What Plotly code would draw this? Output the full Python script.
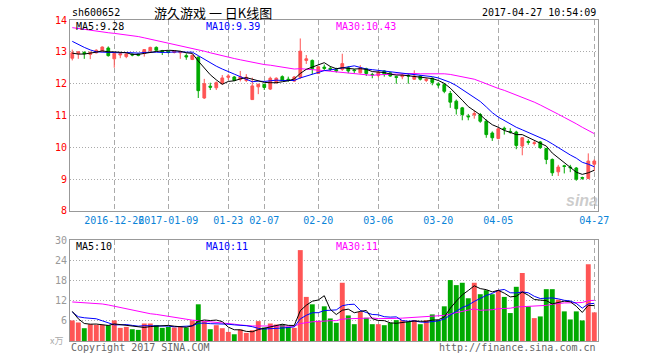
import plotly.graph_objects as go

# ---------------- data ----------------
dates = ["2016-12-15","2016-12-16","2016-12-19","2016-12-20","2016-12-21","2016-12-22","2016-12-23","2016-12-26","2016-12-27","2016-12-28","2016-12-29","2016-12-30",
         "2017-01-03","2017-01-04","2017-01-05","2017-01-06","2017-01-09","2017-01-10","2017-01-11","2017-01-12","2017-01-13","2017-01-16","2017-01-17","2017-01-18","2017-01-19","2017-01-20","2017-01-23","2017-01-24","2017-01-25","2017-01-26",
         "2017-02-03","2017-02-06","2017-02-07","2017-02-08","2017-02-09","2017-02-10","2017-02-13","2017-02-14","2017-02-15","2017-02-16","2017-02-17","2017-02-20","2017-02-21","2017-02-22","2017-02-23","2017-02-24","2017-02-27","2017-02-28",
         "2017-03-01","2017-03-02","2017-03-03","2017-03-06","2017-03-07","2017-03-08","2017-03-09","2017-03-10","2017-03-13","2017-03-14","2017-03-15","2017-03-16","2017-03-17","2017-03-20","2017-03-21","2017-03-22","2017-03-23","2017-03-24","2017-03-27","2017-03-28","2017-03-29","2017-03-30","2017-03-31",
         "2017-04-05","2017-04-06","2017-04-07","2017-04-10","2017-04-11","2017-04-12","2017-04-13","2017-04-14","2017-04-17","2017-04-18","2017-04-19","2017-04-20","2017-04-21","2017-04-24","2017-04-25","2017-04-26","2017-04-27"]

opens = [12.80,12.94,12.98,12.92,12.97,13.03,13.12,12.78,12.90,12.85,
         12.93,12.93,12.95,13.03,13.14,13.04,13.02,12.98,12.97,12.88,
         12.76,12.83,11.55,11.92,11.87,12.00,12.20,12.21,12.14,12.10,
         11.50,11.90,11.98,11.83,12.03,12.22,12.14,12.08,12.20,12.73,
         12.73,12.32,12.52,12.48,12.44,12.45,12.50,12.43,12.34,12.47,
         12.29,12.26,12.40,12.34,12.22,12.22,12.26,12.14,12.24,12.10,
         12.17,11.99,11.97,11.69,11.45,11.24,10.98,11.02,11.03,10.82,
         10.45,10.28,10.60,10.50,10.48,10.04,10.18,10.12,10.17,9.96,
         9.62,9.23,9.42,9.38,9.35,9.05,9.02,9.47]
highs = [13.07,13.02,13.02,13.00,13.08,13.17,13.17,12.97,12.97,12.97,
         12.95,12.95,13.08,13.16,13.17,13.06,13.05,13.04,13.03,12.95,
         12.92,12.86,12.15,12.03,12.07,12.27,12.30,12.24,12.40,12.30,
         12.19,12.00,12.00,12.22,12.20,12.26,12.22,12.24,13.42,12.90,
         12.76,12.55,12.60,12.55,12.50,12.94,12.55,12.46,12.58,12.50,
         12.34,12.39,12.42,12.36,12.25,12.30,12.30,12.42,12.27,12.17,
         12.20,12.05,12.02,11.77,11.50,11.27,11.05,11.15,11.08,10.88,
         10.50,10.61,10.65,10.60,10.52,10.32,10.25,10.20,10.20,9.99,
         9.65,9.45,9.45,9.45,9.38,9.08,9.81,9.62]
lows = [12.73,12.78,12.78,12.77,12.95,12.98,12.85,12.50,12.80,12.80,
        12.86,12.86,12.85,13.00,13.03,12.90,12.95,12.95,12.78,12.75,
        12.74,11.55,11.52,11.80,11.80,11.98,12.12,12.08,12.07,12.05,
        11.49,11.67,11.80,11.80,12.00,12.08,12.06,12.06,12.15,12.62,
        12.30,12.30,12.42,12.40,12.35,12.40,12.33,12.33,12.32,12.24,
        12.17,12.20,12.22,12.22,12.00,12.14,12.00,12.12,12.10,12.05,
        11.95,11.87,11.70,11.24,11.03,10.85,10.85,10.90,10.77,10.30,
        10.20,10.25,10.40,10.43,9.94,9.75,10.08,10.06,9.95,9.47,
        9.10,9.10,9.18,9.22,8.95,8.98,9.00,9.25]
closes = [12.97,13.00,12.94,12.99,13.05,13.15,12.88,12.95,12.94,12.93,
          12.90,12.89,13.07,13.14,13.05,13.01,12.98,13.03,13.01,12.84,
          12.89,11.78,12.00,11.89,12.03,12.18,12.24,12.10,12.22,12.20,
          11.93,11.98,11.88,12.17,12.17,12.10,12.12,12.21,13.02,12.78,
          12.47,12.53,12.48,12.45,12.40,12.63,12.40,12.41,12.50,12.32,
          12.28,12.36,12.29,12.24,12.20,12.26,12.24,12.24,12.14,12.14,
          12.04,11.96,11.76,11.42,11.21,11.03,10.96,11.06,10.82,10.40,
          10.30,10.58,10.57,10.48,10.06,10.30,10.16,10.14,9.99,9.62,
          9.20,9.38,9.40,9.36,9.00,9.03,9.57,9.57]

ma5 = [12.96,12.93,12.93,12.95,12.99,13.03,13.00,13.00,12.99,12.97,
       12.92,12.92,12.95,12.99,13.01,13.03,13.05,13.04,13.02,12.97,
       12.95,12.71,12.50,12.28,12.12,11.98,12.07,12.09,12.15,12.19,
       12.14,12.09,12.04,12.03,12.03,12.06,12.09,12.15,12.32,12.45,
       12.52,12.60,12.66,12.54,12.47,12.50,12.47,12.46,12.47,12.45,
       12.38,12.37,12.35,12.30,12.27,12.27,12.25,12.24,12.22,12.20,
       12.16,12.10,12.01,11.86,11.68,11.48,11.28,11.14,11.02,10.85,
       10.71,10.63,10.53,10.47,10.40,10.40,10.31,10.23,10.13,10.04,
       9.82,9.67,9.52,9.39,9.22,9.15,9.20,9.28]
ma10 = [13.33,13.23,13.14,13.06,13.00,12.99,12.98,12.97,12.97,12.98,
        12.97,12.96,12.98,12.99,12.99,12.98,12.99,12.99,13.00,12.99,
        12.99,12.88,12.77,12.65,12.55,12.46,12.39,12.30,12.22,12.15,
        12.06,12.08,12.07,12.09,12.11,12.10,12.09,12.10,12.18,12.24,
        12.29,12.35,12.41,12.43,12.46,12.51,12.54,12.56,12.51,12.46,
        12.44,12.42,12.40,12.38,12.36,12.33,12.31,12.29,12.26,12.24,
        12.22,12.18,12.12,12.04,11.94,11.82,11.69,11.57,11.44,11.27,
        11.09,10.95,10.84,10.74,10.63,10.55,10.47,10.38,10.30,10.22,
        10.11,9.99,9.87,9.76,9.66,9.53,9.47,9.39]
ma30 = [13.76,13.73,13.71,13.68,13.65,13.63,13.60,13.58,13.56,13.53,
        13.51,13.48,13.44,13.40,13.36,13.32,13.28,13.24,13.20,13.16,
        13.12,13.07,13.02,12.97,12.92,12.87,12.83,12.79,12.75,12.71,
        12.67,12.64,12.60,12.58,12.55,12.51,12.49,12.46,12.47,12.46,
        12.45,12.43,12.41,12.39,12.37,12.36,12.34,12.32,12.30,12.28,
        12.26,12.28,12.29,12.30,12.31,12.31,12.31,12.32,12.31,12.31,
        12.32,12.31,12.31,12.29,12.25,12.22,12.18,12.14,12.07,11.99,
        11.92,11.85,11.79,11.72,11.64,11.57,11.49,11.42,11.33,11.24,
        11.14,11.04,10.94,10.85,10.74,10.63,10.54,10.43]

volume = [6.1,5.5,3.8,5.0,4.8,4.8,4.7,6.1,3.9,4.2,
          3.5,3.3,5.2,5.2,4.7,3.9,4.2,4.0,4.3,4.0,
          6.1,10.9,5.9,3.5,4.7,3.8,2.7,2.0,3.4,2.4,
          3.2,5.9,4.0,5.2,4.9,4.9,4.2,3.9,27.0,13.1,
          10.9,6.0,10.3,6.7,5.4,17.3,7.6,5.0,8.6,6.9,
          5.0,5.0,4.7,5.4,6.2,6.2,5.7,6.2,5.0,6.2,
          7.9,6.2,10.3,18.1,16.6,17.3,12.7,17.3,13.9,15.1,
          13.9,15.1,13.1,8.3,16.1,20.2,10.3,6.8,7.3,15.4,
          15.4,12.3,8.8,6.4,8.8,6.1,22.8,8.5]
vma5 = [8.8,6.6,5.2,5.0,5.04,4.78,4.62,5.08,4.86,4.74,
        4.48,4.20,4.02,4.28,4.38,4.46,4.64,4.40,4.22,4.08,
        4.52,5.86,6.24,6.08,6.22,5.76,4.12,3.34,3.32,2.86,
        2.74,3.38,3.78,4.14,4.64,4.98,4.64,4.62,8.98,10.62,
        11.82,12.18,13.46,9.40,7.86,9.14,9.46,8.40,8.78,9.08,
        6.62,6.10,6.04,5.40,5.26,5.50,5.64,5.94,5.86,5.86,
        6.20,6.30,7.12,9.74,11.82,13.70,15.00,16.40,15.56,15.26,
        14.58,15.06,14.22,13.10,13.30,14.56,13.60,12.34,12.14,12.00,
        11.04,11.44,11.84,11.66,10.34,8.48,10.58,10.52]
vma10 = [8.6,7.2,6.9,6.8,6.6,6.0,5.3,4.8,4.8,4.89,
         4.63,4.41,4.55,4.57,4.56,4.47,4.42,4.21,4.25,4.23,
         4.49,5.25,5.32,5.15,5.15,5.14,4.99,4.79,4.70,4.54,
         4.25,3.75,3.56,3.73,3.75,3.86,4.01,4.20,6.56,7.63,
         8.40,8.41,9.04,9.19,9.24,10.48,10.82,10.93,9.09,8.47,
         7.88,7.78,7.22,7.09,7.17,6.06,5.87,5.99,5.63,5.56,
         5.85,5.97,6.53,7.80,8.84,9.95,10.65,11.76,12.65,13.54,
         14.14,15.03,15.31,14.33,14.28,14.57,14.33,13.28,12.62,12.65,
         12.80,12.52,12.09,11.90,11.17,9.76,11.01,11.18]
vma30 = [11.6,11.5,11.4,11.3,11.2,11.0,10.7,10.3,9.9,9.5,
         9.1,8.8,8.5,8.1,7.9,7.6,7.3,7.0,6.7,6.4,
         6.2,6.05,5.9,5.75,5.6,5.45,5.3,5.0,4.75,4.55,
         4.46,4.47,4.48,4.48,4.49,4.49,4.47,4.40,5.17,5.47,
         5.71,5.80,5.97,6.02,6.05,6.49,6.61,6.64,6.78,6.88,
         6.84,6.65,6.61,6.67,6.72,6.80,6.90,7.04,7.09,7.22,
         7.38,7.39,7.60,8.03,8.42,8.83,9.11,9.56,9.12,9.19,
         9.29,9.59,9.69,9.74,10.10,10.19,10.28,10.34,10.30,10.58,
         10.93,11.17,11.31,11.34,11.43,11.43,12.00,12.07]

tick_dates = ["2016-12-26","2017-01-09","2017-01-23","2017-02-07","2017-02-20",
              "2017-03-06","2017-03-20","2017-04-05","2017-04-27"]
tick_labels = ["2016-12-26","2017-01-09","01-23","02-07","02-20",
               "03-06","03-20","04-05","04-27"]
price_ticks = [8, 9, 10, 11, 12, 13, 14]
vol_ticks = [6, 12, 18, 24, 30]

# ---------------- style ----------------
RED = "#ff5555"
GREEN = "#00aa00"
MONO = "DejaVu Sans Mono"
GRID = "#aaaaaa"
W, H = 660, 360
L, R, T, B = 70, 62, 20, 19
PW, PH = W - L - R, H - T - B


def fx(x):
    return (x - L) / PW


def fy(y):
    return (H - B - y) / PH


fig = go.Figure()

fig.add_trace(go.Candlestick(
    x=dates, open=opens, high=highs, low=lows, close=closes,
    increasing=dict(line=dict(color=RED, width=1), fillcolor=RED),
    decreasing=dict(line=dict(color=GREEN, width=1), fillcolor=GREEN),
    whiskerwidth=0, xaxis="x", yaxis="y", hoverinfo="skip"))

for ys, col in [(ma30, "#ff00ff"), (ma10, "#0000ff"), (ma5, "#000000")]:
    fig.add_trace(go.Scatter(x=dates, y=ys, mode="lines",
                             line=dict(color=col, width=1),
                             xaxis="x", yaxis="y", hoverinfo="skip"))

bar_colors = [RED if c > o else GREEN for o, c in zip(opens, closes)]
fig.add_trace(go.Bar(x=dates, y=volume, marker=dict(color=bar_colors, line=dict(width=0)),
                     width=0.82, xaxis="x2", yaxis="y2", hoverinfo="skip"))

for ys, col in [(vma30, "#ff00ff"), (vma10, "#0000ff"), (vma5, "#000000")]:
    fig.add_trace(go.Scatter(x=dates, y=ys, mode="lines",
                             line=dict(color=col, width=1),
                             xaxis="x2", yaxis="y2", hoverinfo="skip"))

xr = [-0.38, 87.62]
common_x = dict(type="category", range=xr, showgrid=True, gridcolor=GRID, griddash="5px,3px",
                gridwidth=1, showline=True, mirror=True, linecolor="#999999", linewidth=1,
                ticks="", tickvals=tick_dates, ticktext=tick_labels, tickangle=0,
                fixedrange=True, zeroline=False)

annotations = []


def ann(text, x, y, color="#000000", size=10, anchor="left", family=MONO, **kw):
    annotations.append(dict(text=text, x=fx(x), y=fy(y), xref="paper", yref="paper",
                            xanchor=anchor, yanchor="middle", showarrow=False,
                            font=dict(family=family, size=size, color=color), **kw))


ann("sh600652", 70, 12)
ann("游久游戏 一 日K线图", 213, 12, size=13, anchor="center", family="Noto Sans CJK SC")
ann("2017-04-27 10:54:09", 598, 12, anchor="right")
ann("MA5:9.28", 74, 26)
ann("MA10:9.39", 204, 26, color="#0000ff")
ann("MA30:10.43", 334, 26, color="#ff00ff")
ann("MA5:10", 74, 246)
ann("MA10:11", 204, 246, color="#0000ff")
ann("MA30:11", 334, 246, color="#ff00ff")
ann("Copyright 2017 SINA.COM", 69, 348, color="#666666")
ann("http://finance.sina.com.cn", 598, 348, anchor="right", color="#666666")
ann("x万", 56, 340, color="#aaaaaa", size=9, anchor="center", family="Noto Sans CJK SC")
ann("<b><i>sina</i></b>", 582, 201, color="rgba(170,170,170,0.6)", size=16,
    anchor="center", family="Liberation Sans")

fig.update_layout(
    width=W, height=H, margin=dict(l=L, r=R, t=T, b=B),
    paper_bgcolor="white", plot_bgcolor="white", showlegend=False,
    boxgap=0.35, bargap=0.1,
    xaxis=dict(common_x, domain=[0, 1], anchor="y",
               tickfont=dict(family=MONO, size=10, color="#0a84d8"),
               rangeslider=dict(visible=False)),
    xaxis2=dict(common_x, domain=[0, 1], anchor="y2", showticklabels=False),
    yaxis=dict(domain=[0.405, 1], range=[8, 14], tickvals=price_ticks,
               tickfont=dict(family=MONO, size=10, color="#ff0000"),
               showgrid=True, gridcolor=GRID, griddash="1px,2px", showline=True, mirror=True,
               linecolor="#999999", linewidth=1, ticks="", zeroline=False, fixedrange=True),
    yaxis2=dict(domain=[0, 0.3146], range=[0, 30], tickvals=vol_ticks,
                tickfont=dict(family=MONO, size=10, color="#999999"),
                showgrid=True, gridcolor=GRID, griddash="1px,2px", showline=True, mirror=True,
                linecolor="#999999", linewidth=1, ticks="", zeroline=False, fixedrange=True),
    annotations=annotations,
)

fig.write_html("out.html", config={"displayModeBar": False, "staticPlot": True},
               post_script="document.body.style.margin='0';document.body.style.overflow='hidden';")
